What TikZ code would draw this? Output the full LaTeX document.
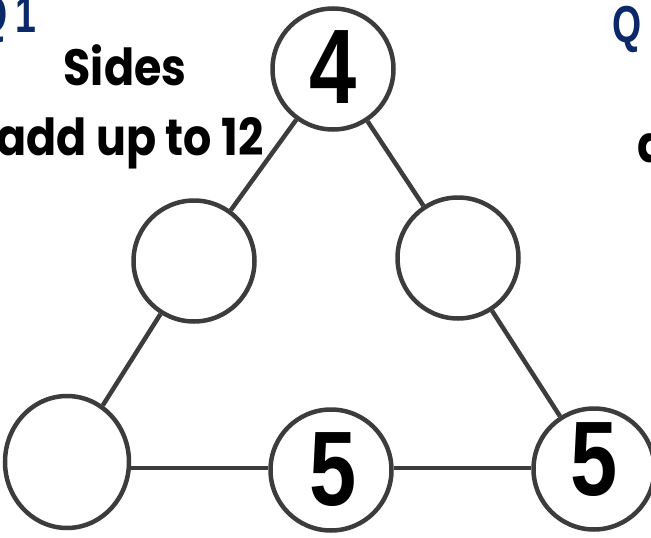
\documentclass[tikz,border=0pt]{standalone}
\usepackage{fontspec}
\usetikzlibrary{shapes.geometric}
\setmainfont{Poppins}
\newfontfamily\digitfont{Liberation Sans}
\definecolor{edge}{HTML}{3C3C3C}
\definecolor{navy}{HTML}{0B2868}
\tikzset{
  spot/.style={circle, draw=edge, line width=4.5pt, minimum size=121pt, inner sep=0pt, fill=white},
  link/.style={draw=edge, line width=4.5pt},
  digit/.style={inner sep=0pt, anchor=center, font=\digitfont\bfseries\fontsize{106}{106}\selectfont, xscale=0.8},
  label/.style={inner sep=0pt, font=\bfseries\fontsize{51}{51}\selectfont, xscale=0.87},
  qlabel/.style={inner sep=0pt, text=navy, font=\digitfont\bfseries\fontsize{52}{52}\selectfont, xscale=0.72}
}
\begin{document}
\begin{tikzpicture}[x=1pt,y=-1pt]
\useasboundingbox (0,0) rectangle (651,538);
\clip (0,0) rectangle (651,538);
\node[spot] (top) at (333,69) {};
\node[spot] (lm) at (194,261) {};
\node[spot] (rm) at (458,258) {};
\node[spot, ellipse, minimum width=124pt, minimum height=132pt] (bl) at (67,462) {};
\node[spot] (bm) at (331,470) {};
\node[spot] (br) at (594,469) {};
\coordinate (h1) at (bl.east |- 0,468);
\coordinate (h2) at (bm.west |- 0,468);
\coordinate (h3) at (bm.east |- 0,468);
\coordinate (h4) at (br.west |- 0,468);
\path[link] (top) -- (lm);
\path[link] (lm) -- (bl);
\path[link] (top) -- (rm);
\path[link] (rm) -- (br);
\path[link] (h1) -- (h2);
\path[link] (h3) -- (h4);
\node[digit] (d4) at (333,67) {4};
\node[digit] (d5a) at (333,470) {5};
\node[digit] (d5b) at (594,460) {5};
\node[label, anchor=base] (t1) at (125,85) {Sides};
\node[label, anchor=base] (t2) at (130,155) {add up to 12};
\node[label, anchor=base west] (t3) at (637,162) {a};
\node[qlabel, anchor=base west] (q1) at (-22,32) {Q\kern12pt1};
\node[qlabel, anchor=base west] (q2) at (612,42) {Q};
\end{tikzpicture}
\end{document}
